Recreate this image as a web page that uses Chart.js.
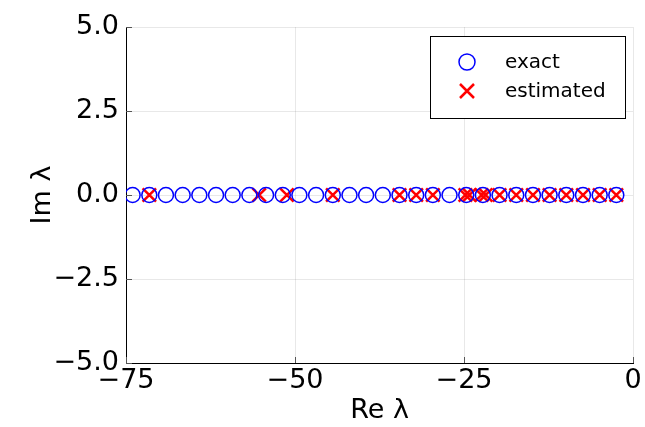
<!DOCTYPE html>
<html>
<head>
<meta charset="utf-8">
<script src="https://cdn.jsdelivr.net/npm/chart.js@4"></script>
<style>
  html, body { margin: 0; padding: 0; background: #fff; }
</style>
</head>
<body>
<canvas id="myChart" width="645" height="427"></canvas>
<script>
// eigenvalues on the real axis (imaginary part is zero)
const exactRe = [-2.47, -4.93, -7.40, -9.87, -12.34, -14.80, -17.27, -19.74, -22.21, -24.67,
                 -27.14, -29.61, -32.07, -34.54, -37.01, -39.48, -41.94, -44.41, -46.88, -49.35,
                 -51.81, -54.28, -56.75, -59.22, -61.68, -64.15, -66.62, -69.09, -71.55, -74.02];
const estimatedRe = [-2.47, -4.93, -7.40, -9.87, -12.34, -14.80, -17.27, -19.74, -21.8, -22.4,
                     -24.2, -24.8, -29.61, -32.07, -34.54, -44.41, -51.2, -55.3, -71.55];
const xTicks = [-75, -50, -25, 0];
const yTicks = [-5, -2.5, 0, 2.5, 5];

const FONT = "'DejaVu Sans', sans-serif";
const fmtMinus = s => s.replace('-', '\u2212');

// small inward tick marks on the left and bottom axes
const innerTicks = {
    id: 'innerTicks',
    afterDraw(chart) {
        const c = chart.ctx;
        const a = chart.chartArea;
        const xs = chart.scales.x, ys = chart.scales.y;
        c.save();
        c.strokeStyle = '#555';
        c.lineWidth = 1;
        c.beginPath();
        xTicks.forEach(v => {
            const px = Math.round(xs.getPixelForValue(v)) + 0.5;
            c.moveTo(px, a.bottom); c.lineTo(px, a.bottom - 6);
        });
        yTicks.forEach(v => {
            const py = Math.round(ys.getPixelForValue(v)) + 0.5;
            c.moveTo(a.left, py); c.lineTo(a.left + 6, py);
        });
        c.stroke();
        c.restore();
    }
};

const legendBox = {
    id: 'legendBox',
    afterDraw(chart) {
        const c = chart.ctx;
        const x0 = 430, y0 = 36, w = 195, h = 82;
        c.save();
        c.fillStyle = '#fff';
        c.fillRect(x0, y0, w, h);
        c.strokeStyle = '#000';
        c.lineWidth = 1;
        c.strokeRect(x0 + 0.5, y0 + 0.5, w, h);
        c.font = '20px ' + FONT;
        c.textBaseline = 'middle';
        c.fillStyle = '#000';
        chart.data.datasets.forEach((ds, i) => {
            const cy = 62 + i * 29;
            const cx = 467;
            c.strokeStyle = ds.borderColor;
            c.lineWidth = ds.borderWidth;
            c.beginPath();
            if (ds.pointStyle === 'circle') {
                c.arc(cx, cy, 8, 0, Math.PI * 2);
            } else {
                c.moveTo(cx - 7, cy - 7); c.lineTo(cx + 7, cy + 7);
                c.moveTo(cx + 7, cy - 7); c.lineTo(cx - 7, cy + 7);
            }
            c.stroke();
            c.fillText(ds.label, 505, cy + 1);
        });
        c.restore();
    }
};

const ctx = document.getElementById('myChart').getContext('2d');
const myChart = new Chart(ctx, {
    type: 'scatter',
    data: {
        datasets: [{
            label: 'exact',
            data: exactRe.map(v => ({x: v, y: 0})),
            pointStyle: 'circle',
            pointRadius: 7.5,
            borderColor: '#0000ff',
            backgroundColor: 'rgba(0,0,0,0)',
            borderWidth: 1.5
        }, {
            label: 'estimated',
            data: estimatedRe.map(v => ({x: v, y: 0})),
            pointStyle: 'crossRot',
            pointRadius: 9.5,
            borderColor: '#ff0000',
            backgroundColor: '#ff0000',
            borderWidth: 2.5
        }]
    },
    options: {
        responsive: false,
        animation: false,
        events: [],
        layout: { padding: { left: 0, right: 9, top: 27, bottom: 0 } },
        plugins: { legend: { display: false }, tooltip: { enabled: false } },
        scales: {
            x: {
                type: 'linear',
                min: -75, max: 0,
                afterBuildTicks: s => { s.ticks = xTicks.map(v => ({value: v})); },
                afterFit: s => { s.height = 64; },
                ticks: {
                    color: '#000', padding: 2, maxRotation: 0, autoSkip: false,
                    font: { family: FONT, size: 27 },
                    callback: v => fmtMinus(String(v))
                },
                grid: { color: 'rgba(0,0,0,0.09)', drawTicks: false },
                border: { color: '#000', width: 1 },
                title: {
                    display: true, text: 'Re λ', color: '#000',
                    font: { family: FONT, size: 27 }, padding: { top: 0, bottom: 0 }
                }
            },
            y: {
                type: 'linear',
                min: -5, max: 5,
                afterBuildTicks: s => { s.ticks = yTicks.map(v => ({value: v})); },
                afterFit: s => { s.width = 126; },
                ticks: {
                    color: '#000', padding: 7, autoSkip: false,
                    font: { family: FONT, size: 27 },
                    callback: v => fmtMinus(Number(v).toFixed(1))
                },
                grid: { color: 'rgba(0,0,0,0.09)', drawTicks: false },
                border: { color: '#000', width: 1 },
                title: {
                    display: true, text: 'Im λ', color: '#000',
                    font: { family: FONT, size: 27 }, padding: { top: 27, bottom: 0 }
                }
            }
        }
    },
    plugins: [innerTicks, legendBox]
});
</script>
</body>
</html>
